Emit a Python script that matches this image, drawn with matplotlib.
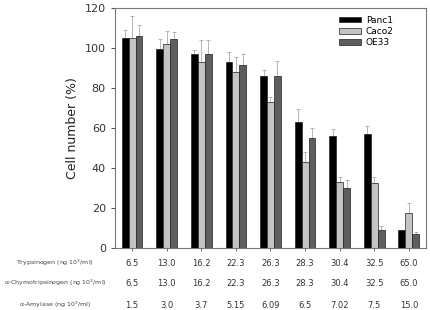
import matplotlib
matplotlib.use('Agg')
import matplotlib.pyplot as plt
import numpy as np

series = ['Panc1', 'Caco2', 'OE33']
colors = ['#000000', '#c4c4c4', '#5e5e5e']
panc1 = [105, 99.5, 97, 93, 86, 63, 56, 57, 9]
caco2 = [105, 102, 93, 88, 73, 43, 33, 32.5, 17.5]
oe33 = [106, 104.7, 97, 91.5, 86, 55, 30, 9, 7]
panc1_err = [4, 5, 2, 5, 3, 6.5, 3.5, 4, 0]
caco2_err = [11, 6.5, 11, 7.5, 2.5, 5, 2.5, 3, 5]
oe33_err = [5.5, 3.5, 7, 5.5, 7.5, 5, 4, 1.7, 1.1]
trypsinogen = ['6.5', '13.0', '16.2', '22.3', '26.3', '28.3', '30.4', '32.5', '65.0']
chymo = ['6.5', '13.0', '16.2', '22.3', '26.3', '28.3', '30.4', '32.5', '65.0']
amylase = ['1.5', '3.0', '3.7', '5.15', '6.09', '6.5', '7.02', '7.5', '15.0']
row_labels = ['Trypsinogen (ng 10$^3$/ml)', 'α-Chymotripsinogen (ng 10$^3$/ml)', 'α-Amylase (ng 10$^3$/ml)']

fig = plt.figure(figsize=(4.3, 3.1), dpi=100)
ax = fig.add_axes([0.267, 0.201, 0.724, 0.772])

x = np.arange(len(panc1))
w = 0.2
data = [panc1, caco2, oe33]
errs = [panc1_err, caco2_err, oe33_err]
for i in range(3):
    pos = x + (i - 1) * w
    ax.bar(pos, data[i], w, color=colors[i], edgecolor='#222222', linewidth=0.5,
           label=series[i], zorder=2)
    ax.errorbar(pos, data[i], yerr=[np.zeros(len(x)), errs[i]], fmt='none',
                ecolor='#aaaaaa', elinewidth=0.6, capsize=1.5, capthick=0.6, zorder=1)

ax.set_xlim(-0.5, 8.5)
ax.set_ylim(0, 120)
ax.set_yticks([0, 20, 40, 60, 80, 100, 120])
ax.set_xticks(x)
ax.set_xticklabels([])
ax.tick_params(axis='y', labelsize=8, colors='#333333', length=3, width=0.6)
ax.tick_params(axis='x', length=2.5, width=0.6, colors='#555555')
for s in ax.spines.values():
    s.set_color('#777777')
    s.set_linewidth(0.8)
ax.set_ylabel('Cell number (%)', fontsize=9, color='#222222', labelpad=4)

leg = ax.legend(loc='upper left', bbox_to_anchor=(0.71, 0.985), fontsize=6.5,
                frameon=False, handlelength=2.4, handleheight=0.6,
                labelspacing=0.25, handletextpad=0.5, borderaxespad=0)

rows = [trypsinogen, chymo, amylase]
row_y = [263, 283, 305]
for r in range(3):
    yf = 1 - row_y[r] / 310
    fig.text(55 / 430, yf, row_labels[r], fontsize=4.5, color='#444444',
             ha='center', va='center')
    for j in range(len(x)):
        xd = ax.transData.transform((x[j], 0))[0]
        fig.text(xd / 430, yf, rows[r][j], fontsize=6, color='#333333',
                 ha='center', va='center')

fig.savefig('out.png', dpi=100)
